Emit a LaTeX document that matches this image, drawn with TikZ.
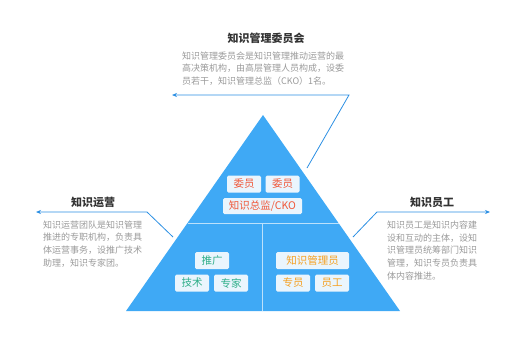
\documentclass[tikz,border=0pt]{standalone}
\usepackage{fontspec}
\setmainfont{Noto Sans CJK SC}
\usetikzlibrary{positioning,arrows.meta}
\definecolor{pyrblue}{HTML}{3FA9F5}
\definecolor{linkblue}{HTML}{2B8FE3}
\definecolor{titlegray}{HTML}{333333}
\definecolor{descgray}{HTML}{9A9A9A}
\definecolor{tagfill}{HTML}{EAF5FD}
\definecolor{tagred}{HTML}{F0583A}
\definecolor{taggreen}{HTML}{2EAE88}
\definecolor{tagorange}{HTML}{F5A021}

\begin{document}
\begin{tikzpicture}[
  x=1pt,y=-1pt,
  title/.style={font=\fontsize{11}{13}\selectfont\bfseries,text=titlegray},
  desc/.style={font=\fontsize{9}{12.7}\selectfont,text=descgray,align=left,inner sep=0pt,anchor=north west},
  tag/.style={fill=tagfill,rounded corners=1.5pt,font=\fontsize{10.5}{12}\selectfont,minimum height=17pt,minimum width=34pt,inner xsep=4pt,inner ysep=0pt},
  link/.style={linkblue,line width=0.8pt,-{Stealth[length=5pt,width=4pt]}}
]
  \useasboundingbox (0,0) rectangle (531,351);

  % pyramid
  \fill[pyrblue] (263,115) -- (400,311) -- (126,311) -- cycle;
  \draw[white!65!pyrblue,line width=0.8pt] (187.5,223) -- (338.5,223);
  \draw[white!65!pyrblue,line width=0.8pt] (262.5,223) -- (262.5,311);

  % top block
  \node[title] (comm) at (266,38) {知识管理委员会};
  \node[desc] (commtext) at (182,51.5) {知识管理委员会是知识管理推动运营的最\\高决策机构，由高层管理人员构成，设委\\员若干，知识管理总监（CKO）1名。};

  % left block
  \node[title] (ops) at (93,202) {知识运营};
  \node[desc] (opstext) at (43,220.5) {知识运营团队是知识管理\\推进的专职机构，负责具\\体运营事务，设推广技术\\助理，知识专家团。};

  % right block
  \node[title] (staff) at (432,202) {知识员工};
  \node[desc] (stafftext) at (387,220.5) {知识员工是知识内容建\\设和互动的主体，设知\\识管理员统筹部门知识\\管理，知识专员负责具\\体内容推进。};

  % tags in the pyramid
  \node[tag,text=tagred] (memA) at (244,184) {委员};
  \node[tag,text=tagred] (memB) at (282.5,184) {委员};
  \node[tag,text=tagred,minimum width=79pt,minimum height=16pt] (cko) at (262.5,206) {知识总监/CKO};
  \node[tag,text=taggreen] (promo) at (212,260.5) {推广};
  \node[tag,text=taggreen] (tech) at (192,283) {技术};
  \node[tag,text=taggreen] (expert) at (231,283) {专家};
  \node[tag,text=tagorange,minimum width=73pt] (admin) at (312.5,260.5) {知识管理员};
  \node[tag,text=tagorange] (spec) at (293,283) {专员};
  \node[tag,text=tagorange] (worker) at (332,283) {员工};

  % connectors
  \coordinate (topfoot) at (307,168);
  \coordinate (topbend) at (349,95);
  \coordinate (topend) at (172,95);
  \coordinate (leftfoot) at (173,237);
  \coordinate (leftbend) at (147,212);
  \coordinate (leftend) at (36,212);
  \coordinate (rightfoot) at (353,237);
  \coordinate (rightbend) at (377,212);
  \coordinate (rightend) at (490,212);
  \draw[link] (topfoot) -- (topbend) -- (topend);
  \draw[link] (leftfoot) -- (leftbend) -- (leftend);
  \draw[link] (rightfoot) -- (rightbend) -- (rightend);
\end{tikzpicture}
\end{document}
